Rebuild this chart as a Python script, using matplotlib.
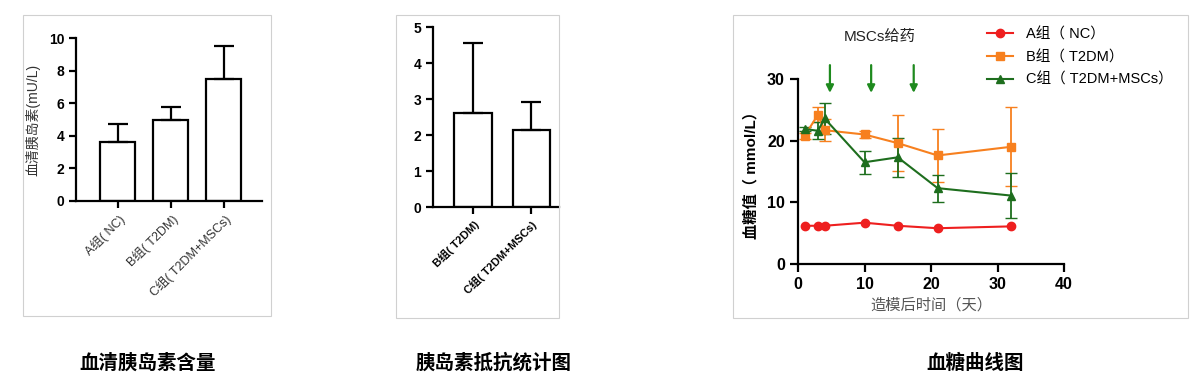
import matplotlib
matplotlib.use("Agg")
import matplotlib.pyplot as plt
from matplotlib.lines import Line2D
from matplotlib.patches import Rectangle

plt.rcParams["font.family"] = ["Liberation Sans", "Noto Sans CJK SC", "DejaVu Sans"]

W, H = 1204, 382

# panel 1: serum insulin
ins_groups = ["A组( NC)", "B组( T2DM)", "C组( T2DM+MSCs)"]
ins_mean = [3.6, 5.0, 7.5]
ins_err = [1.15, 0.75, 2.0]

# panel 2: insulin resistance
res_groups = ["B组( T2DM)", "C组( T2DM+MSCs)"]
res_mean = [2.6, 2.15]
res_err = [1.95, 0.77]

# panel 3: blood glucose curve
days = [1, 3, 4, 10, 15, 21, 32]
glu_a = [6.2, 6.2, 6.2, 6.7, 6.2, 5.8, 6.1]
glu_b = [20.8, 24.2, 21.7, 21.0, 19.6, 17.6, 19.0]
err_b = [0.5, 1.2, 1.8, 0.6, 4.5, 4.3, 6.4]
glu_c = [21.9, 21.6, 23.6, 16.5, 17.3, 12.3, 11.1]
err_c = [0.3, 1.4, 2.5, 1.9, 3.2, 2.2, 3.6]
dose_days = [4.8, 11.0, 17.4]
labels = ["A组（ NC）", "B组（ T2DM）", "C组（ T2DM+MSCs）"]
captions = ["血清胰岛素含量", "胰岛素抵抗统计图", "血糖曲线图"]

RED, ORANGE, GREEN = "#ee1f1f", "#f7801f", "#1e6e1e"


def px_axes(fig, left, top, right, bottom):
    return fig.add_axes([left / W, 1 - bottom / H, (right - left) / W, (bottom - top) / H])


def frame(fig, left, top, right, bottom):
    fig.patches.append(Rectangle((left / W, 1 - bottom / H), (right - left) / W, (bottom - top) / H,
                                 transform=fig.transFigure, fill=False, ec="#d0d0d0", lw=0.8))


def style(ax, lw=1.6):
    for s in ["top", "right"]:
        ax.spines[s].set_visible(False)
    for s in ["left", "bottom"]:
        ax.spines[s].set_linewidth(lw)
    ax.tick_params(width=lw, length=5)


fig = plt.figure(figsize=(W / 100, H / 100), dpi=100)

# ---- panel 1
frame(fig, 23, 15, 271, 316)
ax1 = px_axes(fig, 76, 38, 262, 201)
x1 = range(len(ins_groups))
ax1.bar(x1, ins_mean, width=0.66, color="white", edgecolor="black", linewidth=1.6,
        yerr=[[0] * 3, ins_err], error_kw=dict(elinewidth=1.6, capsize=7, capthick=1.6, ecolor="black"))
ax1.set_xlim(-0.79, 2.72)
ax1.set_ylim(0, 10)
ax1.set_yticks([0, 2, 4, 6, 8, 10])
ax1.set_xticks(list(x1))
ax1.set_xticklabels(ins_groups, rotation=45, ha="right", rotation_mode="anchor", fontsize=9, color="#333333")
for t in ax1.get_yticklabels():
    t.set_fontweight("bold")
    t.set_fontsize(10)
ax1.set_ylabel("血清胰岛素(mU/L)", fontsize=10, color="#333333", labelpad=6)
style(ax1)

# ---- panel 2
frame(fig, 396, 15, 559, 318)
ax2 = px_axes(fig, 433, 27, 559, 207)
x2 = range(len(res_groups))
ax2.bar(x2, res_mean, width=0.64, color="white", edgecolor="black", linewidth=1.6,
        yerr=[[0] * 2, res_err], error_kw=dict(elinewidth=1.6, capsize=7, capthick=1.6, ecolor="black"))
ax2.set_xlim(-0.69, 1.48)
ax2.set_ylim(0, 5)
ax2.set_xticks(list(x2))
ax2.set_xticklabels(res_groups, rotation=45, ha="right", rotation_mode="anchor", fontsize=8, fontweight="bold")
for t in ax2.get_yticklabels():
    t.set_fontweight("bold")
    t.set_fontsize(10)
style(ax2)

# ---- panel 3
frame(fig, 733, 15, 1188, 318)
ax3 = px_axes(fig, 798, 79, 1064, 264)
ax3.plot(days, glu_a, "-o", color=RED, ms=6, lw=1.5)
ax3.errorbar(days, glu_b, yerr=err_b, fmt="-s", color=ORANGE, ms=6, lw=1.5, capsize=4, elinewidth=1.3)
ax3.errorbar(days, glu_c, yerr=err_c, fmt="-^", color=GREEN, ms=6, lw=1.5, capsize=4, elinewidth=1.3)
for d in dose_days:
    ax3.annotate("", xy=(d, 27.3), xytext=(d, 32.7), annotation_clip=False,
                 arrowprops=dict(arrowstyle="-|>", color="#1e8a1e", lw=1.6, mutation_scale=11))
ax3.text(12.3, 36.8, "MSCs给药", ha="center", va="center", fontsize=11, color="#222222", clip_on=False)
ax3.set_xlim(0, 40)
ax3.set_ylim(0, 30)
ax3.set_xticks([0, 10, 20, 30, 40])
ax3.set_yticks([0, 10, 20, 30])
for t in ax3.get_xticklabels() + ax3.get_yticklabels():
    t.set_fontweight("bold")
    t.set_fontsize(11.5)
ax3.set_xlabel("造模后时间（天）", fontsize=11, color="#555555", labelpad=4)
ax3.set_ylabel("血糖值（ mmol/L）", fontsize=11, fontweight="bold", labelpad=6)
style(ax3)
ax3.tick_params(length=6)
handles = [Line2D([], [], color=c, marker=m, ms=6, lw=1.5) for c, m in zip([RED, ORANGE, GREEN], "os^")]
fig.legend(handles, labels, loc="upper left", bbox_to_anchor=(974 / W, 1 - 14 / H), frameon=False,
           fontsize=10.5, handlelength=1.8, labelspacing=0.6, handletextpad=0.9)

# ---- captions
for cx, cap in zip([148, 494, 975], captions):
    fig.text(cx / W, 1 - 363 / H, cap, ha="center", va="center", fontsize=14, fontweight="bold",
             family=["Noto Sans CJK SC"])

fig.savefig("out.png", dpi=100)
